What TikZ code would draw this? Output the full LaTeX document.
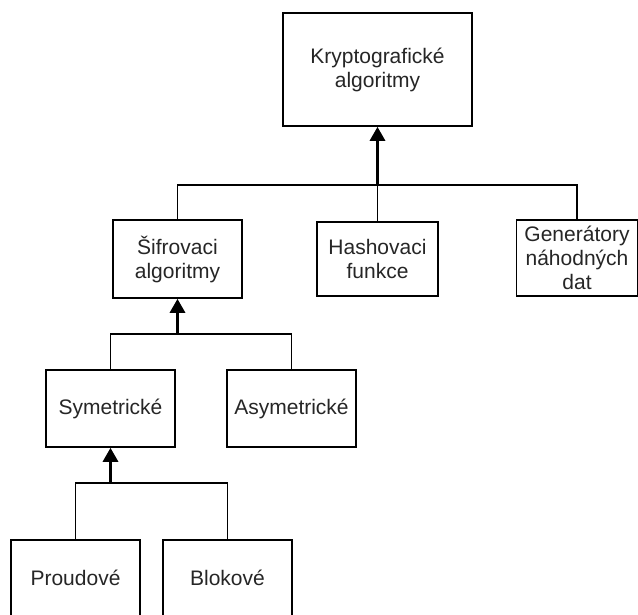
\documentclass[tikz,border=0pt]{standalone}
\usepackage{fontspec}
\setmainfont{Liberation Sans}
\usetikzlibrary{arrows.meta}
\begin{document}
\begin{tikzpicture}[x=1pt,y=1pt,
  box/.style={draw=black, line width=1.6pt, fill=white, inner sep=0pt, align=center,
    text=black!85, font=\fontsize{21}{24}\selectfont},
  link/.style={draw=black, line width=1.6pt},
  uparrow/.style={draw=black, line width=3pt, -{Triangle[width=15pt,length=14pt]}}]
\useasboundingbox (0,0) rectangle (638,-614);
\clip (0,0) rectangle (638,-614);
\fill[white] (0,0) rectangle (638,-614);
% nodes
\node[box, minimum width=189pt, minimum height=113pt] (top) at (377.5,-69.5) {Kryptografické\\algoritmy};
\node[box, minimum width=129pt, minimum height=78pt] (sif) at (177.5,-259) {Šifrovaci\\algoritmy};
\node[box, minimum width=121pt, minimum height=74pt] (hash) at (377.5,-259) {Hashovaci\\funkce};
\node[box, minimum width=121pt, minimum height=76pt] (gen) at (577,-258) {Generátory\\náhodných\\dat};
\node[box, minimum width=129pt, minimum height=77pt] (sym) at (110.5,-408.5) {Symetrické};
\node[box, minimum width=129pt, minimum height=77pt] (asym) at (291.5,-408.5) {Asymetrické};
\node[box, minimum width=129pt, minimum height=76pt] (proud) at (75.5,-578) {Proudové};
\node[box, minimum width=129pt, minimum height=76pt] (blok) at (227.5,-578) {Blokové};
% junctions
\coordinate (j1) at (377.5,-185);
\coordinate (j2) at (177.5,-334);
\coordinate (j3) at (110.5,-483);
% connectors level 1
\draw[link] (sif.north) |- (j1) -| (gen.north);
\draw[link] (hash.north) -- (j1);
\draw[uparrow] (j1) -- (top.south);
% level 2
\draw[link] (sym.north) |- (j2) -| (asym.north);
\draw[uparrow] (j2) -- (sif.south);
% level 3
\draw[link] (proud.north) |- (j3) -| (blok.north);
\draw[uparrow] (j3) -- (sym.south);
\end{tikzpicture}
\end{document}
